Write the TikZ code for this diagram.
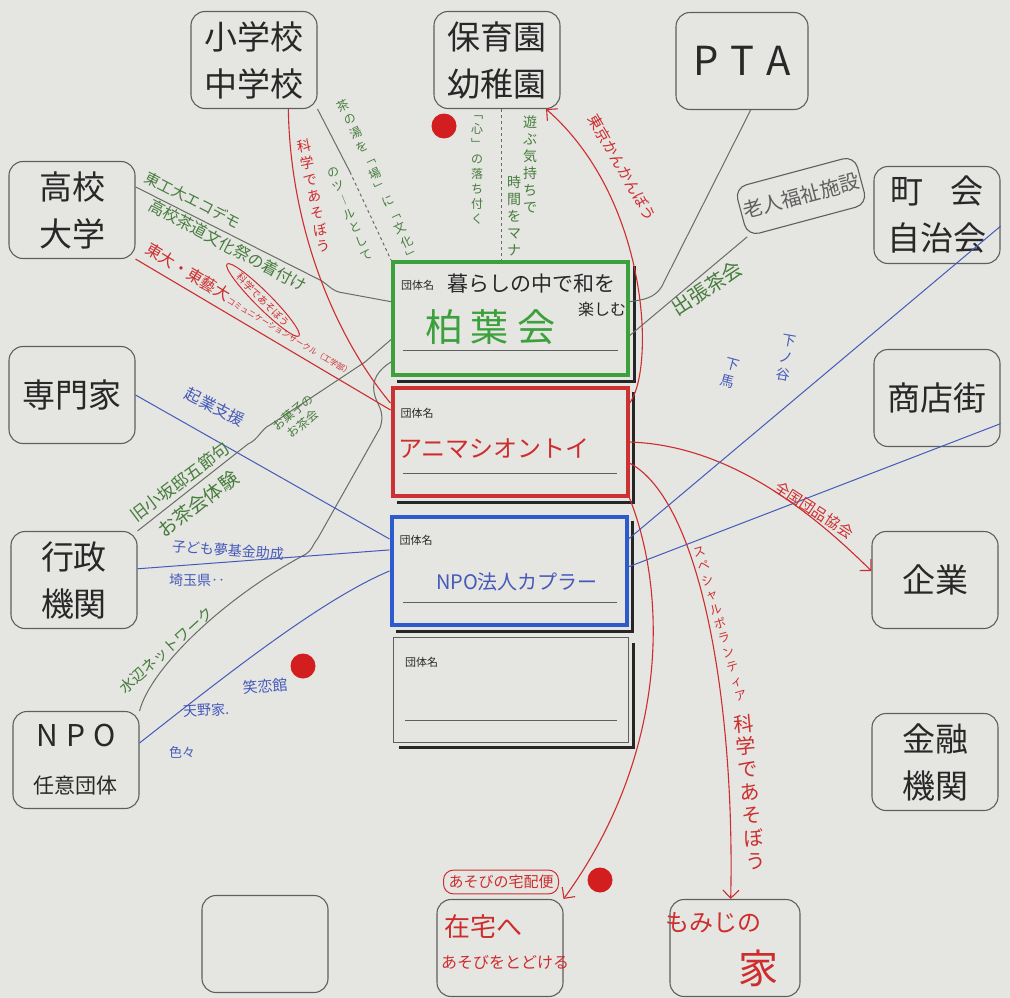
\documentclass[tikz,border=0pt]{standalone}
\usepackage{fontspec}
\setmainfont{Noto Sans CJK JP}
\usetikzlibrary{positioning,calc,shapes.geometric,arrows.meta}
\definecolor{paper}{RGB}{229,229,226}
\definecolor{boxline}{RGB}{95,95,95}
\definecolor{boxtext}{RGB}{40,40,40}
\definecolor{pencil}{RGB}{105,110,100}
\definecolor{inkred}{RGB}{205,45,45}
\definecolor{inkgreen}{RGB}{70,125,60}
\definecolor{inkblue}{RGB}{70,90,185}
\definecolor{dotred}{RGB}{210,30,30}
\definecolor{boxgreen}{RGB}{60,160,60}
\definecolor{boxred}{RGB}{205,50,50}
\definecolor{boxblue}{RGB}{45,90,205}

\begin{document}
\begin{tikzpicture}[x=1pt,y=-1pt,>={Straight Barb[length=8pt]},
	orgbox/.style={draw=boxline, line width=1.1pt, rounded corners=14pt, minimum width=126pt, minimum height=97pt, align=center, text=boxtext, font=\fontsize{33}{47}\selectfont, inner sep=2pt},
	grpbox/.style={line width=4pt, minimum width=235pt, minimum height=108pt, inner sep=0pt},
	tagtext/.style={font=\fontsize{11}{12}\selectfont, text=boxtext, inner sep=0pt},
	ink/.style={inner sep=0pt, font=\fontsize{#1}{#1}\selectfont},
	tate/.style={inner sep=0pt, align=center, font=\fontsize{#1}{\numexpr#1+3\relax}\selectfont},
	pencil/.style={draw=pencil, line width=1pt},
	redpen/.style={draw=inkred, line width=1.1pt},
	bluepen/.style={draw=inkblue, line width=1pt},
	dot/.style={circle, fill=dotred, minimum size=25pt, inner sep=0pt}]
	\useasboundingbox (0,0) rectangle (1010,998);
	\fill[paper] (0,0) rectangle (1010,998);
	% partners
	\node[orgbox] (shou) at (254,60) {小学校\\中学校};
	\node[orgbox] (hoiku) at (497,60) {保育園\\幼稚園};
	\node[orgbox, minimum width=132pt, font=\fontsize{40}{47}\selectfont] (pta) at (742,61) {P\hspace{12pt}T\hspace{12pt}A};
	\node[orgbox] (kou) at (72,210) {高校\\大学};
	\node[orgbox] (chou) at (937,215) {町\hspace{28pt}会\\自治会};
	\node[orgbox] (sen) at (72,395) {専門家};
	\node[orgbox] (shoten) at (937,398) {商店街};
	\node[orgbox] (gyou) at (74,580) {行政\\機関};
	\node[orgbox] (kigyou) at (935,580) {企業};
	\node[orgbox] (npo) at (76,760) {{\fontsize{30}{40}\selectfont N\hspace{8pt}P\hspace{8pt}O}\\{\fontsize{21}{30}\selectfont 任意団体}};
	\node[orgbox] (kin) at (935,762) {金融\\機関};
	\node[orgbox] (empty) at (265,944) {};
	\node[orgbox] (zaitaku) at (500,948) {};
	\node[orgbox, minimum width=130pt] (momiji) at (735,948) {};
	\node[orgbox, rotate=15, minimum width=124pt, minimum height=50pt, rounded corners=12pt, font=\fontsize{20}{22}\selectfont, text=boxline] (rouji) at (801,196) {老人福祉施設};
	% groups
	\node[grpbox, draw=boxgreen, minimum height=113pt] (grpA) at (510.5,318.5) {};
	\node[grpbox, draw=boxred] (grpB) at (510,442) {};
	\node[grpbox, draw=boxblue] (grpC) at (509,571) {};
	\node[grpbox, draw=boxline, line width=1.4pt, minimum height=105pt] (grpD) at (511,690) {};
	\foreach \g in {grpA,grpB,grpC,grpD}
		\draw[line width=3pt, black!85] ($(\g.north east)+(4,6)$) -- ($(\g.south east)+(4,4)$) -- ($(\g.south west)+(6,4)$);
	\node[tagtext, below right=20pt and 10pt of grpA.north west] (tagA) {団体名};
	\node[tagtext, below right=22pt and 10pt of grpB.north west] (tagB) {団体名};
	\node[tagtext, below right=20pt and 10pt of grpC.north west] (tagC) {団体名};
	\node[tagtext, below right=20pt and 12pt of grpD.north west] (tagD) {団体名};
	\draw[boxline, line width=0.8pt] (403,350) -- (618,350);
	\draw[boxline, line width=0.8pt] (403,473) -- (617,473);
	\draw[boxline, line width=0.8pt] (403,602) -- (617,602);
	\draw[boxline, line width=0.8pt] (405,720) -- (617,720);
	\node[ink=21, text=boxtext] (motto) at (531,284) {暮らしの中で和を};
	\node[ink=16, text=boxtext] (motto2) at (602,309) {楽しむ};
	\node[ink=38, text=boxgreen] (kashiwa) at (490,327) {柏\hspace{8pt}葉\hspace{8pt}会};
	\node[ink=24, text=inkred] (anima) at (494,449) {アニマシオントイ};
	\node[ink=20, text=inkblue] (kapla) at (517,582) {NPO法人カプラー};
	% dots
	\node[dot] (dotA) at (444,126) {};
	\node[dot] (dotB) at (303,666) {};
	\node[dot] (dotC) at (600,880) {};
	% pencil links
	\coordinate (brkA) at (350,172);
	\draw[pencil] (shou.south east) -- (brkA);
	\draw[pencil, dashed] (brkA) -- (grpA.north west);
	\draw[pencil] (kou.20) -- (320,280) .. controls (328,284) and (332,292) .. (344,293) -- (grpA.172);
	\draw[pencil, dashed] (hoiku.-85) -- (hoiku.-85 |- grpA.north);
	\draw[pencil] (pta.-80) -- (664,282) .. controls (660,292) and (652,298) .. (640,300) -- (grpA.8);
	\draw[pencil] (rouji.south west) -- (grpA.-8);
	\draw[pencil] (grpA.190) -- (365,362) -- (270,425) .. controls (262,428) and (258,440) .. (248,444) -- (gyou.north east);
	\draw[pencil] (grpA.200) .. controls (378,370) and (372,380) .. (374,392) .. controls (376,405) and (386,410) .. (380,428) -- (318,538) .. controls (312,546) and (312,550) .. (306,554) .. controls (220,600) and (150,670) .. (npo.north east);
	% red links
	\draw[redpen] (shou.-55) .. controls (290,220) and (330,330) .. (grpB.162);
	\draw[redpen] (kou.south east) -- (grpB.165);
	\draw[redpen, ->] (grpB.18) .. controls (655,370) and (650,200) .. (hoiku.-45);
	\draw[redpen, ->] (grpB.east) .. controls (720,445) and (800,500) .. (kigyou.172);
	\draw[redpen, ->] (grpB.-10) .. controls (700,500) and (735,700) .. (momiji.95);
	\draw[redpen, ->] (grpB.south east) .. controls (670,600) and (665,760) .. (zaitaku.north east);
	% blue links
	\draw[bluepen] (chou.-10) -- (grpC.15);
	\draw[bluepen] (shoten.-22) -- (grpC.2);
	\draw[bluepen] (sen.east) -- (grpC.165);
	\draw[bluepen] (gyou.10) -- (grpC.170);
	\draw[bluepen] (npo.15) .. controls (220,680) and (320,600) .. (grpC.west);
	% notes, green
	\node[ink=15, text=inkgreen, anchor=west, rotate=-27] (ecod) at (146,176) {東工大エコデモ};
	\node[ink=16, text=inkgreen, anchor=west, rotate=-28] (kimono) at (150,204) {高校茶道文化祭の着付け};
	\node[tate=12, text=inkgreen, rotate=25] (chanoyu) at (378,180) {茶\\の\\湯\\を\\﹁\\場\\﹂\\に\\﹁\\文\\化\\﹂};
	\node[tate=12, text=inkgreen, rotate=22] (tool) at (350,214) {の\\ツ\\︱\\ル\\と\\し\\て};
	\node[tate=12, text=inkgreen] (kokoro) at (477,170) {﹁\\心\\﹂\\の\\落\\ち\\付\\く};
	\node[tate=14, text=inkgreen] (asobu) at (530,164) {遊\\ぶ\\気\\持\\ち\\で};
	\node[tate=14, text=inkgreen] (jikan) at (514,216) {時\\間\\を\\マ\\ナ};
	\node[ink=20, text=inkgreen, rotate=33] (shutcho) at (707,288) {出張茶会};
	\node[ink=17, text=inkgreen, rotate=37] (kosaka) at (180,482) {旧小坂邸五節句};
	\node[ink=19, text=inkgreen, rotate=37] (taiken) at (198,504) {お茶会体験};
	\node[tate=12, text=inkgreen, rotate=40] (okashi) at (298,418) {お菓子の\\お茶会};
	\node[ink=15, text=inkgreen, rotate=42] (mizube) at (166,650) {水辺ネットワーク};
	% notes, red
	\node[tate=14, text=inkred, rotate=11] (kagakuA) at (314,196) {科\\学\\で\\あ\\そ\\ぼ\\う};
	\node[ink=16, text=inkred, anchor=south west, rotate=-31] (todai) at (143,254) {東大・東藝大{\fontsize{8}{8}\selectfont コミュニケーションサークル（工学部）}};
	\node[ink=10, text=inkred, draw=inkred, line width=1pt, ellipse, inner sep=1pt, rotate=-45] (bubble) at (263,300) {科学であそぼう};
	\node[ink=15, text=inkred, rotate=-60] (kanbo) at (622,168) {東京かんかんぼう};
	\node[ink=15, text=inkred, rotate=-33] (zenkoku) at (814,510) {全国団品協会};
	\node[tate=12, text=inkred, rotate=16] (special) at (720,624) {ス\\ペ\\シ\\ャ\\ル\\ボ\\ラ\\ン\\テ\\ィ\\ア};
	\node[tate=20, text=inkred, rotate=5] (kagakuB) at (750,792) {科\\学\\で\\あ\\そ\\ぼ\\う};
	\node[ink=15, text=inkred, draw=inkred, line width=1pt, rounded corners=10pt, inner sep=5pt] (takuhai) at (501,882) {あそびの宅配便};
	\node[ink=26, text=inkred] (zaitakuA) at (483,927) {在宅へ};
	\node[ink=16, text=inkred] (zaitakuB) at (505,962) {あそびをとどける};
	\node[ink=24, text=inkred] (momijiA) at (713,923) {もみじの};
	\node[ink=40, text=inkred] (momijiB) at (758,968) {家};
	% notes, blue
	\node[tate=14, text=inkblue, rotate=-10] (shimonoya) at (786,358) {下\\ノ\\谷};
	\node[tate=14, text=inkblue, rotate=-15] (geba) at (730,373) {下\\馬};
	\node[ink=16, text=inkblue, rotate=-27] (kigyo) at (215,407) {起業支援};
	\node[ink=14, text=inkblue, rotate=-4] (yume) at (228,550) {子ども夢基金助成};
	\node[ink=14, text=inkblue] (saitama) at (197,580) {埼玉県‥};
	\node[ink=15, text=inkblue, rotate=5] (shoren) at (265,686) {笑恋館};
	\node[ink=14, text=inkblue, rotate=3] (amano) at (206,710) {天野家.};
	\node[ink=13, text=inkblue] (iroiro) at (182,752) {色々};
\end{tikzpicture}
\end{document}
